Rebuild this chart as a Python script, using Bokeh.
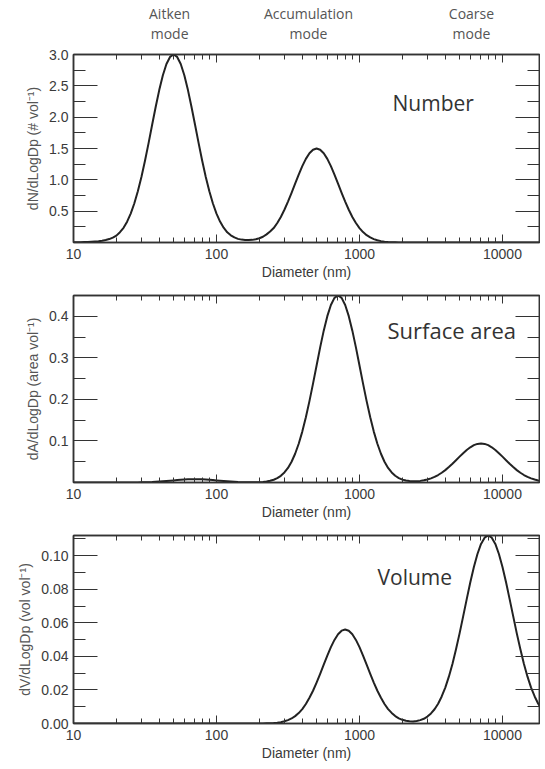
from bokeh.plotting import figure
from bokeh.models import (FixedTicker, LinearAxis, LogAxis, Range1d, Label,
                          PrintfTickFormatter, ColumnDataSource)
from bokeh.core.properties import value
from bokeh.layouts import column
from bokeh.embed import file_html
from bokeh.resources import INLINE

# ---------------- data ----------------
diameter_nm = [10, 10.59, 11.22, 11.89, 12.59, 13.34, 14.13, 14.96, 15.85, 16.79,
               17.78, 18.84, 19.95, 21.13, 22.39, 23.71, 25.12, 26.61, 28.18, 29.85,
               31.62, 33.50, 35.48, 37.58, 39.81, 42.17, 44.67, 47.32, 50.12, 53.09,
               56.23, 59.57, 63.10, 66.83, 70.79, 74.99, 79.43, 84.14, 89.13, 94.41,
               100, 105.9, 112.2, 118.9, 125.9, 133.4, 141.3, 149.6, 158.5, 167.9,
               177.8, 188.4, 199.5, 211.3, 223.9, 237.1, 251.2, 266.1, 281.8, 298.5,
               316.2, 335.0, 354.8, 375.8, 398.1, 421.7, 446.7, 473.2, 501.2, 530.9,
               562.3, 595.7, 631.0, 668.3, 707.9, 749.9, 794.3, 841.4, 891.3, 944.1,
               1000, 1059, 1122, 1189, 1259, 1334, 1413, 1496, 1585, 1679,
               1778, 1884, 1995, 2113, 2239, 2371, 2512, 2661, 2818, 2985,
               3162, 3350, 3548, 3758, 3981, 4217, 4467, 4732, 5012, 5309,
               5623, 5957, 6310, 6683, 7079, 7499, 7943, 8414, 8913, 9441,
               10000, 10590, 11220, 11890, 12590, 13340, 14130, 14960, 15850, 16790,
               17780, 18840, 19950]

number = [0.002, 0.003, 0.004, 0.006, 0.008, 0.011, 0.015, 0.020, 0.028, 0.039,
          0.055, 0.078, 0.11, 0.165, 0.234, 0.333, 0.461, 0.622, 0.817, 1.046,
          1.305, 1.586, 1.878, 2.167, 2.436, 2.669, 2.848, 2.961, 3.0, 2.961,
          2.848, 2.669, 2.436, 2.167, 1.878, 1.586, 1.305, 1.046, 0.817, 0.622,
          0.461, 0.334, 0.236, 0.163, 0.115, 0.081, 0.058, 0.046, 0.040, 0.039,
          0.042, 0.051, 0.068, 0.092, 0.13, 0.175, 0.2306, 0.311, 0.408, 0.523,
          0.6525, 0.793, 0.939, 1.084, 1.218, 1.334, 1.424, 1.481, 1.5, 1.481,
          1.424, 1.334, 1.218, 1.084, 0.939, 0.793, 0.6525, 0.523, 0.408, 0.311,
          0.2306, 0.1665, 0.117, 0.0804, 0.054, 0.035, 0.022, 0.0137, 0.008, 0.0048,
          0.003, 0.0015, 0.001, 0.0004, 0, 0, 0, 0, 0, 0,
          0, 0, 0, 0, 0, 0, 0, 0, 0, 0,
          0, 0, 0, 0, 0, 0, 0, 0, 0, 0,
          0, 0, 0, 0, 0, 0, 0, 0, 0, 0,
          0, 0, 0]

surface_area = [0, 0, 0, 0, 0, 0, 0, 0, 0, 0,
                0, 0, 0, 0, 0, 0.0001, 0.0001, 0.0002, 0.0003, 0.0004,
                0.0006, 0.0009, 0.0012, 0.0017, 0.0022, 0.0028, 0.0035, 0.0042, 0.0050, 0.0058,
                0.0065, 0.0071, 0.0076, 0.0079, 0.008, 0.0079, 0.0076, 0.0071, 0.0065, 0.0058,
                0.0050, 0.0042, 0.0035, 0.0028, 0.0022, 0.0017, 0.0012, 0.0009, 0.0007, 0.0006,
                0.0006, 0.0007, 0.0009, 0.0015, 0.0025, 0.0041, 0.0067, 0.0105, 0.0161, 0.0241,
                0.0351, 0.0500, 0.0692, 0.0932, 0.1225, 0.1569, 0.1958, 0.2379, 0.2817, 0.3251,
                0.3654, 0.4003, 0.4272, 0.4442, 0.45, 0.4442, 0.4272, 0.4003, 0.3654, 0.3251,
                0.2817, 0.2379, 0.1958, 0.1569, 0.1225, 0.0932, 0.0692, 0.0500, 0.0351, 0.0242,
                0.0162, 0.0107, 0.0070, 0.0047, 0.0034, 0.0030, 0.0031, 0.0039, 0.0052, 0.0072,
                0.0100, 0.0135, 0.0180, 0.0234, 0.0298, 0.0371, 0.0451, 0.0536, 0.0622, 0.0705,
                0.0782, 0.0848, 0.0898, 0.0929, 0.094, 0.0929, 0.0898, 0.0848, 0.0782, 0.0705,
                0.0622, 0.0536, 0.0451, 0.0371, 0.0298, 0.0234, 0.0180, 0.0135, 0.0099, 0.0071,
                0.0050, 0.0034, 0.0023]

volume = [0, 0, 0, 0, 0, 0, 0, 0, 0, 0,
          0, 0, 0, 0, 0, 0, 0, 0, 0, 0,
          0, 0, 0, 0, 0, 0, 0, 0, 0, 0,
          0, 0, 0, 0, 0, 0, 0, 0, 0, 0,
          0, 0, 0, 0, 0, 0, 0, 0, 0, 0,
          0, 0, 0, 0, 0.0001, 0.0002, 0.0003, 0.0005, 0.0008, 0.0013,
          0.0020, 0.0030, 0.0044, 0.0062, 0.0086, 0.0116, 0.0153, 0.0195, 0.0244, 0.0296,
          0.0351, 0.0405, 0.0455, 0.0498, 0.0532, 0.0553, 0.056, 0.0553, 0.0532, 0.0498,
          0.0455, 0.0405, 0.0351, 0.0296, 0.0244, 0.0195, 0.0153, 0.0116, 0.0086, 0.0063,
          0.0044, 0.0031, 0.0022, 0.0016, 0.0013, 0.0012, 0.0015, 0.0020, 0.0028, 0.0041,
          0.0060, 0.0085, 0.0118, 0.0161, 0.0214, 0.0279, 0.0355, 0.0442, 0.0537, 0.0638,
          0.0741, 0.0841, 0.0932, 0.1010, 0.1070, 0.1107, 0.112, 0.1107, 0.1070, 0.1010,
          0.0932, 0.0841, 0.0741, 0.0638, 0.0537, 0.0442, 0.0355, 0.0279, 0.0214, 0.0161,
          0.0118, 0.0085, 0.0059]

x_major = [10, 100, 1000, 10000]
x_minor = [20, 30, 40, 50, 60, 70, 80, 90,
           200, 300, 400, 500, 600, 700, 800, 900,
           2000, 3000, 4000, 5000, 6000, 7000, 8000, 9000]

n_major = [0.5, 1.0, 1.5, 2.0, 2.5, 3.0]
n_minor = [0.25, 0.75, 1.25, 1.75, 2.25, 2.75]
a_major = [0.1, 0.2, 0.3, 0.4]
a_minor = [0.05, 0.15, 0.25, 0.35]
v_major = [0.0, 0.02, 0.04, 0.06, 0.08, 0.10]
v_minor = [0.01, 0.03, 0.05, 0.07, 0.09, 0.11]

mode_line1 = ["Aitken", "Accumulation", "Coarse"]
mode_line2 = ["mode", "mode", "mode"]
mode_pos_nm = [47, 440, 6070]

src = ColumnDataSource(dict(d=diameter_nm, n=number, a=surface_area, v=volume))

FRAME = "#333333"
TICKFONT = "Liberation Sans"
LABELCOL = "#3a3a3a"
ANNFONT = "Open Sans"
XRANGE = Range1d(10, 18150)
HEADER_H = 45


def make_panel(height, top, ymax, ymaj, ymin, yfmt, ylabel, col):
    p = figure(width=540, height=height, x_axis_type="log",
               x_range=XRANGE, y_range=Range1d(0, ymax),
               output_backend="svg", toolbar_location=None,
               min_border_left=73, min_border_right=1,
               min_border_top=top, min_border_bottom=42)
    p.xgrid.visible = False
    p.ygrid.visible = False
    p.outline_line_color = FRAME
    p.outline_line_width = 1.5

    xt = FixedTicker(ticks=x_major, minor_ticks=x_minor)
    yt = FixedTicker(ticks=ymaj, minor_ticks=ymin)

    xa = p.xaxis[0]
    xa.ticker = xt
    xa.formatter = PrintfTickFormatter(format="%d")
    xa.axis_label = "Diameter (nm)"
    xa.axis_label_text_font = TICKFONT
    xa.axis_label_text_font_style = "normal"
    xa.axis_label_text_font_size = "14px"
    xa.axis_label_text_color = LABELCOL
    xa.axis_label_standoff = 2
    xa.major_label_text_font = TICKFONT
    xa.major_label_text_font_size = "14px"
    xa.major_label_text_color = LABELCOL
    xa.major_label_standoff = 6
    xa.major_tick_in = 8
    xa.major_tick_out = 0
    xa.minor_tick_in = 5
    xa.minor_tick_out = 0
    xa.axis_line_color = FRAME
    xa.axis_line_width = 1.5
    xa.major_tick_line_color = FRAME
    xa.minor_tick_line_color = FRAME

    ya = p.yaxis[0]
    ya.ticker = yt
    ya.formatter = PrintfTickFormatter(format=yfmt)
    ya.axis_label = ylabel
    ya.axis_label_text_font = TICKFONT
    ya.axis_label_text_font_style = "normal"
    ya.axis_label_text_font_size = "14px"
    ya.axis_label_text_color = "#555555"
    ya.axis_label_standoff = 5
    ya.major_label_text_font = TICKFONT
    ya.major_label_text_font_size = "14px"
    ya.major_label_text_color = LABELCOL
    ya.major_label_standoff = 5
    ya.major_tick_in = 24
    ya.major_tick_out = 0
    ya.minor_tick_in = 12
    ya.minor_tick_out = 0
    ya.axis_line_color = FRAME
    ya.axis_line_width = 1.5
    ya.major_tick_line_color = FRAME
    ya.minor_tick_line_color = FRAME

    top_ax = LogAxis(ticker=xt, major_label_text_font_size="1px",
                     major_label_text_alpha=0,
                     major_label_standoff=0, major_tick_in=8, major_tick_out=0,
                     minor_tick_in=5, minor_tick_out=0,
                     axis_line_color=FRAME, axis_line_width=1.5,
                     major_tick_line_color=FRAME, minor_tick_line_color=FRAME)
    p.add_layout(top_ax, "above")
    right_ax = LinearAxis(ticker=yt, major_label_text_font_size="1px",
                          major_label_text_alpha=0,
                          major_label_standoff=0, major_tick_in=24, major_tick_out=0,
                          minor_tick_in=12, minor_tick_out=0,
                          axis_line_color=FRAME, axis_line_width=1.5,
                          major_tick_line_color=FRAME, minor_tick_line_color=FRAME)
    p.add_layout(right_ax, "right")

    p.line("d", col, source=src, line_color="#222222", line_width=2,
           line_join="round")
    return p


# header strip holding the mode names above the first panel
header = figure(width=540, height=HEADER_H, x_axis_type="log", x_range=XRANGE,
                y_range=Range1d(0, HEADER_H), x_axis_location=None, y_axis_location=None,
                output_backend="svg", toolbar_location=None,
                min_border_left=73, min_border_right=1,
                min_border_top=0, min_border_bottom=0)
header.xgrid.visible = False
header.ygrid.visible = False
header.outline_line_color = None
hsrc = ColumnDataSource(dict(x=mode_pos_nm, t1=mode_line1, t2=mode_line2,
                             y1=[HEADER_H - 13] * 3, y2=[HEADER_H - 33] * 3))
header.text(x="x", y="y1", text="t1", source=hsrc, text_font=value(ANNFONT),
            text_font_size="14px", text_color="#555555",
            text_align="center", text_baseline="middle")
header.text(x="x", y="y2", text="t2", source=hsrc, text_font=value(ANNFONT),
            text_font_size="14px", text_color="#555555",
            text_align="center", text_baseline="middle")

p1 = make_panel(239, 9, 3.0, n_major, n_minor, "%.1f", "dN/dLogDp (# vol\u207b\u00b9)", "n")
p2 = make_panel(240, 11, 0.45, a_major, a_minor, "%.1f", "dA/dLogDp (area vol\u207b\u00b9)", "a")
p3 = make_panel(241, 11, 0.112, v_major, v_minor, "%.2f", "dV/dLogDp (vol vol\u207b\u00b9)", "v")

p1.add_layout(Label(x=1703, y=2.22, text="Number", text_font=ANNFONT,
                    text_font_size="21px", text_color="#333333",
                    text_align="left", text_baseline="middle"))
p2.add_layout(Label(x=1570, y=0.366, text="Surface area", text_font=ANNFONT,
                    text_font_size="22px", text_color="#333333",
                    text_align="left", text_baseline="middle"))
p3.add_layout(Label(x=1337, y=0.087, text="Volume", text_font=ANNFONT,
                    text_font_size="21px", text_color="#333333",
                    text_align="left", text_baseline="middle"))

layout = column(header, p1, p2, p3)
open("out.html", "w").write(file_html(layout, INLINE))
